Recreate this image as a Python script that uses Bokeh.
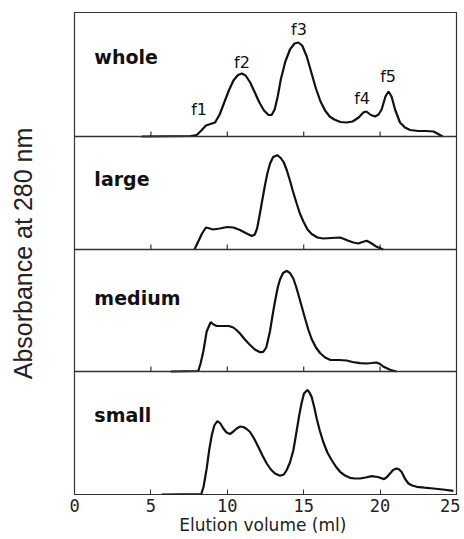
from bokeh.plotting import figure
from bokeh.models import Range1d, FixedTicker, Span, Label
from bokeh.embed import file_html
from bokeh.resources import INLINE

# ---------------- data (elution volume in ml, absorbance in arbitrary units) ----------------
whole_x = [4.4, 7.6, 8.0, 8.3, 8.6, 8.9, 9.2, 9.5, 9.8, 10.1, 10.4, 10.7, 10.95, 11.2, 11.5, 11.8,
           12.1, 12.4, 12.7, 12.9, 13.1, 13.3, 13.5, 13.8, 14.1, 14.4, 14.65, 14.9, 15.2, 15.5,
           15.8, 16.1, 16.4, 16.7, 17.0, 17.4, 17.8, 18.2, 18.6, 18.9, 19.1, 19.4, 19.67, 19.9,
           20.1, 20.35, 20.55, 20.75, 20.98, 21.3, 21.63, 21.96, 22.5, 23.0, 23.5, 24.1]
whole_h = [0, 0.5, 1.5, 6, 11, 12.5, 14, 22, 34, 46, 56, 61.5, 63, 61, 54, 44,
           34, 26, 21.5, 21.5, 27, 40, 57, 75, 87, 93, 94, 91, 80, 64,
           48, 35, 26, 20, 17, 14.5, 14, 15, 19, 24, 25, 21.5, 20, 22,
           27, 40, 45, 40, 27, 14, 9, 6.5, 5.5, 5.5, 5, 0]

large_x = [7.85, 8.1, 8.35, 8.6, 8.85, 9.08, 9.5, 10.0, 10.4, 10.83, 11.2, 11.6, 11.8, 11.95,
           12.1, 12.25, 12.45, 12.62, 12.8, 13.0, 13.27, 13.5, 13.7, 13.9, 14.1, 14.3, 14.54,
           14.75, 14.98, 15.25, 15.52, 15.9, 16.28, 16.8, 17.38, 17.65, 17.92, 18.25, 18.57,
           18.85, 19.12, 19.4, 19.78, 20.2]
large_h = [0, 8, 16, 22, 21, 20, 21, 22.5, 22, 19.5, 16.5, 13.5, 15, 21,
           33, 46, 63, 76, 86, 92.5, 94.3, 91.5, 87, 79, 69, 58, 46,
           36, 28, 20, 15.5, 12, 11, 11.5, 12, 10.5, 8.7, 7, 6,
           7.5, 8.7, 6.5, 2.7, 0]

medium_x = [6.3, 8.1, 8.25, 8.43, 8.65, 8.91, 9.1, 9.3, 9.74, 10.1, 10.39, 10.6, 10.83, 11.15,
            11.49, 11.8, 12.14, 12.35, 12.55, 12.79, 12.95, 13.12, 13.3, 13.45, 13.65, 13.89,
            14.1, 14.32, 14.5, 14.65, 14.87, 15.09, 15.3, 15.52, 15.8, 16.07, 16.4, 16.72,
            17.3, 17.81, 18.2, 18.68, 19.1, 19.45, 19.75, 20.0, 20.2, 20.65, 21.08]
medium_h = [0, 0.5, 8, 20, 40, 49.3, 47, 45.5, 45.5, 45.5, 44, 41.5, 38, 32,
            26.5, 22, 19.3, 19.5, 24, 40, 55, 70, 84, 92, 98.5, 100.7,
            98.5, 93, 85, 77, 65, 53, 42, 32.5, 24, 18.5, 14, 11.7,
            11.5, 11, 9.5, 8.3, 8, 8.5, 9, 7.5, 5, 1.7, 0]

small_x = [5.7, 8.3, 8.45, 8.65, 8.82, 8.98, 9.15, 9.35, 9.55, 9.74, 9.95, 10.18, 10.4, 10.61,
           10.85, 11.05, 11.27, 11.49, 11.75, 12.03, 12.3, 12.58, 12.85, 13.12, 13.45, 13.7,
           13.89, 14.1, 14.32, 14.5, 14.71, 14.87, 15.02, 15.24, 15.38, 15.52, 15.68, 15.85,
           16.05, 16.28, 16.55, 16.83, 17.1, 17.38, 17.7, 18.03, 18.35, 18.68, 19.05, 19.45,
           19.85, 20.26, 20.45, 20.65, 20.85, 21.08, 21.25, 21.41, 21.62, 21.85, 22.1, 22.4,
           22.9, 23.48, 24.1, 24.8]
small_h = [0, 0.5, 8, 26, 45, 59, 69, 73.5, 71, 66, 62, 60.5, 63, 66,
           68, 67.5, 65.5, 62.5, 56, 47.5, 39, 31, 25, 21, 18.7, 20,
           24.5, 32, 44, 60, 79.5, 92, 101, 104.4, 102, 97.5, 88, 76,
           64, 52.5, 42, 34.5, 28, 22.7, 19, 16.7, 16, 16, 17, 18.4,
           17.5, 15.4, 17.5, 21, 24.5, 26, 25, 22.5, 16, 11, 9, 7.7,
           6.8, 6, 5, 3.7]

panel_names = ["whole", "large", "medium", "small"]
peak_names = ["f1", "f2", "f3", "f4", "f5"]
peak_x = [8.15, 10.96, 14.69, 18.82, 20.52]
peak_h = [27, 74, 107, 38, 60]
x_ticks = [0, 5, 10, 15, 20, 25]

# ---------------- layout (panel bases in frame pixels) ----------------
panel_base = {"whole": 358, "large": 245, "medium": 123, "small": 0}
panel_top = 482
series = {"whole": (whole_x, whole_h), "large": (large_x, large_h),
          "medium": (medium_x, medium_h), "small": (small_x, small_h)}
label_y = {"whole": 80, "large": 71, "medium": 74, "small": 80}

p = figure(width=460, height=539, output_backend="svg", toolbar_location=None,
           x_range=Range1d(0, 25), y_range=Range1d(0, panel_top),
           min_border_left=74, min_border_right=4, min_border_top=12, min_border_bottom=45)
p.background_fill_color = "white"
p.border_fill_color = "white"
p.outline_line_color = "#333333"
p.outline_line_width = 1.2
p.grid.visible = False

# x axis
p.xaxis.ticker = FixedTicker(ticks=x_ticks)
p.xaxis.axis_line_color = None
p.xaxis.major_tick_in = 5
p.xaxis.major_tick_out = 0
p.xaxis.major_tick_line_color = "#333333"
p.xaxis.minor_tick_line_color = None
p.xaxis.major_label_standoff = 4
p.xaxis.major_label_text_font = "DejaVu Sans Mono"
p.xaxis.major_label_text_font_size = "17px"
p.xaxis.major_label_text_color = "#222222"
p.xaxis.axis_label = "Elution volume  (ml)"
p.xaxis.axis_label_text_font = "DejaVu Sans"
p.xaxis.axis_label_text_font_style = "normal"
p.xaxis.axis_label_text_font_size = "17px"
p.xaxis.axis_label_text_color = "#222222"
p.xaxis.axis_label_standoff = 0

# y axis (label only)
p.yaxis.ticker = FixedTicker(ticks=[])
p.yaxis.axis_line_color = None
p.yaxis.major_tick_out = 0
p.yaxis.minor_tick_line_color = None
p.yaxis.axis_label = "Absorbance at 280 nm"
p.yaxis.axis_label_text_font = "Liberation Sans"
p.yaxis.axis_label_text_font_style = "normal"
p.yaxis.axis_label_text_font_size = "25px"
p.yaxis.axis_label_text_color = "#222222"
p.yaxis.axis_label_standoff = 38

# panel separators and inner ticks
inner_ticks = [t for t in x_ticks[1:-1]]
seg_x, seg_y0, seg_y1 = [], [], []
for name in panel_names:
    base = panel_base[name]
    if base > 0:
        p.add_layout(Span(location=base, dimension="width", line_color="#333333", line_width=1.5))
        for t in inner_ticks:
            seg_x.append(t)
            seg_y0.append(base)
            seg_y1.append(base + 5)
p.segment(x0=seg_x, y0=seg_y0, x1=seg_x, y1=seg_y1, line_color="#333333", line_width=1.2)

# curves
for name in panel_names:
    xs, hs = series[name]
    base = panel_base[name]
    p.line(xs, [base + h for h in hs], line_color="#111111", line_width=2.2)
    p.add_layout(Label(x=1.3, y=base + label_y[name], text=name, text_font="DejaVu Sans",
                       text_font_style="bold", text_font_size="19px", text_color="#111111",
                       text_baseline="middle", text_align="left"))

# peak labels in the whole panel
for nm, px, ph in zip(peak_names, peak_x, peak_h):
    p.add_layout(Label(x=px, y=panel_base["whole"] + ph, text=nm, text_font="DejaVu Sans",
                       text_font_size="16px", text_color="#111111",
                       text_baseline="middle", text_align="center"))

open("out.html", "w").write(file_html(p, INLINE))
